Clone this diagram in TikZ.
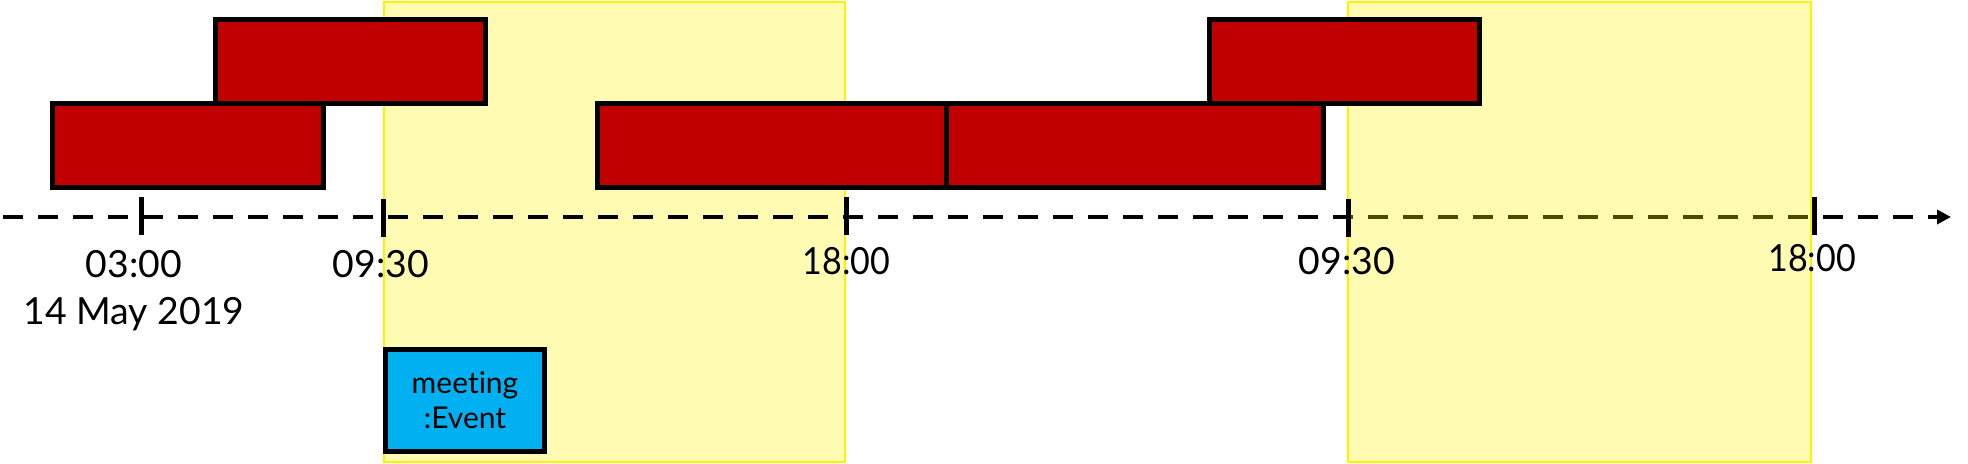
\documentclass[tikz,border=0pt]{standalone}
\usepackage{fontspec}
\setmainfont{Lato}[Ligatures=NoCommon]
\newfontfamily\narrowlato{Lato}[FakeStretch=0.91,Ligatures=NoCommon]
\usetikzlibrary{arrows.meta}
\definecolor{evred}{HTML}{C00000}
\definecolor{evblue}{HTML}{00B0F0}
\begin{document}
\begin{tikzpicture}[x=0.5pt,y=-0.5pt,
  redbox/.style={draw=black,line width=2.5pt,fill=evred,inner sep=0pt,outer sep=0pt},
  bluebox/.style={draw=black,line width=2.5pt,fill=evblue,inner sep=0pt,outer sep=0pt,
    align=center,font=\fontsize{15}{17.5}\selectfont},
  daybox/.style={draw=yellow,line width=0.75pt,fill=yellow,fill opacity=0.3,inner sep=0pt,outer sep=0pt},
  ticksty/.style={line width=2.5pt},
  axisline/.style={line width=2.25pt,dash pattern=on 10pt off 7.5pt,-{Triangle[length=7pt,width=7pt]}},
  lbl/.style={font=\fontsize{18.7}{22.5}\selectfont,anchor=base,inner sep=0pt},
  endlbl/.style={font=\narrowlato\fontsize{18.7}{22.5}\selectfont,anchor=base,inner sep=0pt},
]
\useasboundingbox (0,0) rectangle (1968,464);
% first working day (under the axis)
\node[daybox,minimum width=230.5pt,minimum height=230pt] (day1) at (614.5,232) {};
% time axis
\coordinate (axs) at (3,217);
\coordinate (axe) at (1951,217);
\draw[axisline] (axs) -- (axe);
% second working day (over the axis)
\node[daybox,minimum width=231.5pt,minimum height=230pt] (day2) at (1579.5,232) {};
% ticks
\foreach \n/\x/\ya/\yb in {t1/141/197/235,t2/383/199/237,t3/846/197/235,t4/1348/199/237,t5/1814/197/235}{
  \coordinate (\n a) at (\x,\ya);
  \coordinate (\n b) at (\x,\yb);
  \draw[ticksty] (\n a) -- (\n b);
}
% red bars
\node[redbox,minimum width=135.5pt,minimum height=42pt] (r1) at (188,146) {};
\node[redbox,minimum width=135pt,minimum height=42pt] (r2) at (350.5,62) {};
\node[redbox,minimum width=174.25pt,minimum height=42pt] (r3) at (771.75,146) {};
\node[redbox,minimum width=188.75pt,minimum height=42pt] (r4) at (1134.75,146) {};
\node[redbox,minimum width=135pt,minimum height=42pt] (r5) at (1344.5,62) {};
% event
\node[bluebox,minimum width=79.5pt,minimum height=51pt] (ev) at (465,400.5) {meeting\\:Event};
% labels
\node[lbl] (l1) at (134,278) {03:00};
\node[lbl] (l1d) at (134,325) {14 May 2019};
\node[lbl] (l2) at (381,278) {09:30};
\node[endlbl] (l3) at (846.5,275) {18:00};
\node[lbl] (l4) at (1347,275) {09:30};
\node[endlbl] (l5) at (1812,272) {18:00};
\end{tikzpicture}
\end{document}
